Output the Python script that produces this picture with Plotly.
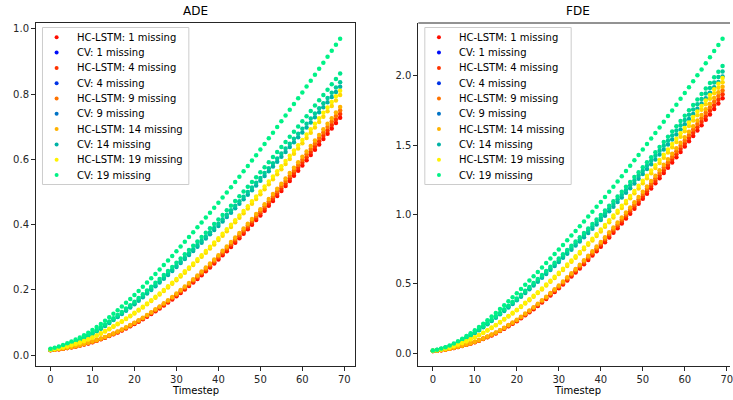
import plotly.graph_objects as go

timesteps = list(range(70))

# ---------------- ADE values ----------------
ade_cv_19 = [0.019, 0.0225, 0.0265, 0.031, 0.036, 0.0415, 0.0475, 0.054, 0.061, 0.0685,
             0.077, 0.086, 0.0955, 0.1055, 0.1159, 0.1266, 0.1376, 0.1488, 0.1602, 0.1718,
             0.184, 0.1965, 0.2093, 0.2223, 0.2355, 0.2489, 0.2624, 0.276, 0.2898, 0.3037,
             0.318, 0.3325, 0.3471, 0.3618, 0.3766, 0.3915, 0.4065, 0.4215, 0.4366, 0.4518,
             0.467, 0.4828, 0.4987, 0.5147, 0.5308, 0.547, 0.5633, 0.5797, 0.5962, 0.6128,
             0.630, 0.6472, 0.6645, 0.6819, 0.6993, 0.7168, 0.7343, 0.7519, 0.7695, 0.7872,
             0.805, 0.823, 0.8411, 0.8593, 0.8776, 0.8959, 0.9143, 0.9328, 0.9514, 0.970]
ade_cv_18 = [0.0169, 0.0200, 0.0236, 0.0276, 0.0320, 0.0369, 0.0423, 0.0481, 0.0543, 0.0610,
             0.0685, 0.0765, 0.0850, 0.0939, 0.1032, 0.1127, 0.1225, 0.1324, 0.1426, 0.1529,
             0.1638, 0.1749, 0.1863, 0.1978, 0.2096, 0.2215, 0.2335, 0.2456, 0.2579, 0.2703,
             0.2830, 0.2959, 0.3089, 0.3220, 0.3352, 0.3484, 0.3618, 0.3751, 0.3886, 0.4021,
             0.4156, 0.4297, 0.4438, 0.4581, 0.4724, 0.4868, 0.5013, 0.5159, 0.5306, 0.5454,
             0.5607, 0.5760, 0.5914, 0.6069, 0.6224, 0.6380, 0.6535, 0.6692, 0.6849, 0.7006,
             0.7165, 0.7325, 0.7486, 0.7648, 0.7811, 0.7974, 0.8137, 0.8302, 0.8467, 0.8633]
ade_cv_16 = [0.0164, 0.0194, 0.0228, 0.0267, 0.0310, 0.0358, 0.0409, 0.0465, 0.0526, 0.0590,
             0.0664, 0.0741, 0.0823, 0.0909, 0.0999, 0.1091, 0.1186, 0.1283, 0.1381, 0.1481,
             0.1586, 0.1694, 0.1804, 0.1916, 0.2030, 0.2146, 0.2262, 0.2379, 0.2498, 0.2618,
             0.2741, 0.2866, 0.2992, 0.3119, 0.3246, 0.3375, 0.3504, 0.3633, 0.3764, 0.3895,
             0.4026, 0.4162, 0.4299, 0.4437, 0.4575, 0.4715, 0.4856, 0.4997, 0.5139, 0.5282,
             0.5431, 0.5579, 0.5728, 0.5878, 0.6028, 0.6179, 0.6330, 0.6481, 0.6633, 0.6786,
             0.6939, 0.7094, 0.7250, 0.7407, 0.7565, 0.7723, 0.7881, 0.8041, 0.8201, 0.8361]
ade_cv_14 = [0.0161, 0.0191, 0.0225, 0.0263, 0.0305, 0.0352, 0.0403, 0.0458, 0.0517, 0.0581,
             0.0653, 0.0729, 0.0810, 0.0895, 0.0983, 0.1074, 0.1167, 0.1262, 0.1358, 0.1457,
             0.1560, 0.1666, 0.1775, 0.1885, 0.1997, 0.2111, 0.2225, 0.2340, 0.2458, 0.2575,
             0.2697, 0.2820, 0.2943, 0.3068, 0.3194, 0.3320, 0.3447, 0.3574, 0.3702, 0.3831,
             0.3960, 0.4094, 0.4229, 0.4365, 0.4501, 0.4639, 0.4777, 0.4916, 0.5056, 0.5197,
             0.5342, 0.5488, 0.5635, 0.5782, 0.5930, 0.6078, 0.6227, 0.6376, 0.6525, 0.6675,
             0.6826, 0.6979, 0.7133, 0.7287, 0.7442, 0.7597, 0.7753, 0.7910, 0.8068, 0.8226]
ade_hc_1 = [0.015, 0.0162, 0.0176, 0.0193, 0.0213, 0.0236, 0.0262, 0.0291, 0.0323, 0.0358,
            0.0396, 0.0438, 0.0483, 0.0531, 0.0582, 0.0636, 0.0693, 0.0753, 0.0816, 0.0882,
            0.0951, 0.1023, 0.1098, 0.1176, 0.1257, 0.1341, 0.1428, 0.1518, 0.1611, 0.1707,
            0.1806, 0.1906, 0.2009, 0.2115, 0.2224, 0.2335, 0.2449, 0.2566, 0.2685, 0.2807,
            0.2931, 0.3057, 0.3185, 0.3315, 0.3447, 0.3581, 0.3717, 0.3855, 0.3995, 0.4137,
            0.4281, 0.4427, 0.4575, 0.4725, 0.4876, 0.5029, 0.5183, 0.5339, 0.5496, 0.5654,
            0.5814, 0.5974, 0.6135, 0.6297, 0.6459, 0.6622, 0.6785, 0.6949, 0.7113, 0.7278]
ade_hc_4 = [0.0152, 0.0164, 0.0179, 0.0196, 0.0216, 0.0240, 0.0266, 0.0295, 0.0328, 0.0363,
            0.0402, 0.0445, 0.0490, 0.0539, 0.0591, 0.0646, 0.0703, 0.0764, 0.0828, 0.0895,
            0.0965, 0.1038, 0.1114, 0.1194, 0.1276, 0.1361, 0.1449, 0.1541, 0.1635, 0.1733,
            0.1833, 0.1935, 0.2039, 0.2147, 0.2257, 0.2370, 0.2486, 0.2604, 0.2725, 0.2849,
            0.2975, 0.3103, 0.3233, 0.3365, 0.3499, 0.3635, 0.3773, 0.3913, 0.4055, 0.4199,
            0.4345, 0.4493, 0.4644, 0.4796, 0.4949, 0.5104, 0.5261, 0.5419, 0.5578, 0.5739,
            0.5901, 0.6064, 0.6227, 0.6391, 0.6556, 0.6721, 0.6887, 0.7053, 0.7220, 0.7387]
ade_hc_9 = [0.0155, 0.0167, 0.0181, 0.0199, 0.0219, 0.0243, 0.0270, 0.0300, 0.0333, 0.0369,
            0.0408, 0.0451, 0.0497, 0.0547, 0.0599, 0.0655, 0.0714, 0.0776, 0.0840, 0.0908,
            0.0980, 0.1054, 0.1131, 0.1211, 0.1295, 0.1381, 0.1471, 0.1564, 0.1659, 0.1758,
            0.1860, 0.1963, 0.2069, 0.2178, 0.2291, 0.2405, 0.2522, 0.2643, 0.2766, 0.2891,
            0.3019, 0.3149, 0.3281, 0.3414, 0.3550, 0.3688, 0.3829, 0.3971, 0.4115, 0.4261,
            0.4409, 0.4560, 0.4712, 0.4867, 0.5022, 0.5180, 0.5338, 0.5499, 0.5661, 0.5824,
            0.5988, 0.6153, 0.6319, 0.6486, 0.6653, 0.6821, 0.6989, 0.7157, 0.7326, 0.7496]
ade_hc_14 = [0.0157, 0.0169, 0.0184, 0.0202, 0.0223, 0.0247, 0.0274, 0.0304, 0.0338, 0.0374,
             0.0414, 0.0458, 0.0505, 0.0555, 0.0608, 0.0665, 0.0724, 0.0787, 0.0853, 0.0922,
             0.0994, 0.1069, 0.1147, 0.1229, 0.1314, 0.1401, 0.1492, 0.1586, 0.1683, 0.1784,
             0.1887, 0.1992, 0.2099, 0.2210, 0.2324, 0.2440, 0.2559, 0.2681, 0.2806, 0.2933,
             0.3063, 0.3195, 0.3328, 0.3464, 0.3602, 0.3742, 0.3884, 0.4028, 0.4175, 0.4323,
             0.4474, 0.4626, 0.4781, 0.4938, 0.5095, 0.5255, 0.5416, 0.5579, 0.5743, 0.5908,
             0.6076, 0.6243, 0.6411, 0.6580, 0.6750, 0.6920, 0.7090, 0.7262, 0.7433, 0.7606]
ade_hc_17 = [0.0160, 0.0181, 0.0206, 0.0233, 0.0265, 0.0300, 0.0338, 0.0381, 0.0427, 0.0477,
             0.0533, 0.0593, 0.0657, 0.0724, 0.0795, 0.0869, 0.0945, 0.1023, 0.1105, 0.1189,
             0.1276, 0.1368, 0.1461, 0.1558, 0.1656, 0.1757, 0.1860, 0.1965, 0.2072, 0.2183,
             0.2296, 0.2410, 0.2526, 0.2645, 0.2765, 0.2887, 0.3011, 0.3137, 0.3264, 0.3393,
             0.3524, 0.3658, 0.3793, 0.3930, 0.4068, 0.4209, 0.4349, 0.4493, 0.4637, 0.4783,
             0.4933, 0.5083, 0.5235, 0.5388, 0.5543, 0.5698, 0.5855, 0.6012, 0.6171, 0.6330,
             0.6490, 0.6653, 0.6815, 0.6979, 0.7142, 0.7307, 0.7472, 0.7638, 0.7804, 0.7970]
ade_hc_19 = [0.0163, 0.0184, 0.0209, 0.0237, 0.0269, 0.0305, 0.0344, 0.0387, 0.0434, 0.0485,
             0.0542, 0.0603, 0.0668, 0.0736, 0.0808, 0.0883, 0.0960, 0.1040, 0.1123, 0.1208,
             0.1297, 0.1390, 0.1485, 0.1583, 0.1683, 0.1786, 0.1890, 0.1997, 0.2106, 0.2218,
             0.2333, 0.2449, 0.2567, 0.2688, 0.2810, 0.2934, 0.3060, 0.3188, 0.3317, 0.3448,
             0.3581, 0.3717, 0.3855, 0.3994, 0.4134, 0.4277, 0.4420, 0.4566, 0.4712, 0.4861,
             0.5013, 0.5166, 0.5320, 0.5476, 0.5633, 0.5791, 0.5950, 0.6110, 0.6271, 0.6433,
             0.6596, 0.6761, 0.6926, 0.7092, 0.7258, 0.7426, 0.7593, 0.7762, 0.7931, 0.8100]

# ---------------- FDE values ----------------
fde_cv_19 = [0.019, 0.025, 0.033, 0.043, 0.055, 0.070, 0.086, 0.104, 0.123, 0.143,
             0.165, 0.188, 0.212, 0.237, 0.263, 0.290, 0.3175, 0.3455, 0.374, 0.4027,
             0.432, 0.4618, 0.4921, 0.5227, 0.5537, 0.585, 0.6168, 0.649, 0.6814, 0.7141,
             0.747, 0.7802, 0.8136, 0.8472, 0.881, 0.915, 0.9494, 0.9841, 1.0191, 1.0544,
             1.09, 1.1262, 1.1628, 1.1998, 1.2372, 1.275, 1.3129, 1.3512, 1.3898, 1.4287,
             1.468, 1.5074, 1.5471, 1.5871, 1.6274, 1.668, 1.7088, 1.75, 1.7914, 1.833,
             1.875, 1.9172, 1.9598, 2.0026, 2.0456, 2.089, 2.1331, 2.1775, 2.2221, 2.267]
fde_cv_18 = [0.0173, 0.0228, 0.0301, 0.0393, 0.0502, 0.0639, 0.0785, 0.0950, 0.1123, 0.1306,
             0.1506, 0.1716, 0.1936, 0.2164, 0.2401, 0.2648, 0.2899, 0.3154, 0.3415, 0.3677,
             0.3944, 0.4216, 0.4493, 0.4772, 0.5055, 0.5341, 0.5631, 0.5925, 0.6221, 0.6520,
             0.6820, 0.7123, 0.7428, 0.7735, 0.8044, 0.8354, 0.8668, 0.8985, 0.9304, 0.9627,
             0.9952, 1.0282, 1.0616, 1.0954, 1.1296, 1.1641, 1.1987, 1.2336, 1.2689, 1.3044,
             1.3403, 1.3763, 1.4125, 1.4490, 1.4858, 1.5229, 1.5601, 1.5978, 1.6355, 1.6735,
             1.7119, 1.7504, 1.7893, 1.8284, 1.8676, 1.9073, 1.9475, 1.9881, 2.0288, 2.0698]
fde_cv_16 = [0.0170, 0.0224, 0.0296, 0.0385, 0.0493, 0.0627, 0.0771, 0.0932, 0.1102, 0.1281,
             0.1478, 0.1684, 0.1900, 0.2124, 0.2356, 0.2598, 0.2845, 0.3096, 0.3351, 0.3608,
             0.3871, 0.4138, 0.4409, 0.4683, 0.4961, 0.5242, 0.5527, 0.5815, 0.6105, 0.6398,
             0.6693, 0.6991, 0.7290, 0.7591, 0.7894, 0.8198, 0.8507, 0.8818, 0.9131, 0.9447,
             0.9766, 1.0091, 1.0419, 1.0750, 1.1085, 1.1424, 1.1764, 1.2107, 1.2453, 1.2801,
             1.3153, 1.3506, 1.3862, 1.4220, 1.4582, 1.4945, 1.5311, 1.5680, 1.6051, 1.6424,
             1.6800, 1.7178, 1.7560, 1.7943, 1.8329, 1.8717, 1.9113, 1.9510, 1.9910, 2.0312]
fde_cv_14 = [0.0167, 0.0220, 0.0290, 0.0378, 0.0484, 0.0616, 0.0757, 0.0915, 0.1082, 0.1258,
             0.1452, 0.1654, 0.1866, 0.2086, 0.2314, 0.2552, 0.2794, 0.3040, 0.3291, 0.3544,
             0.3802, 0.4064, 0.4330, 0.4600, 0.4873, 0.5148, 0.5428, 0.5711, 0.5996, 0.6284,
             0.6574, 0.6866, 0.7160, 0.7455, 0.7753, 0.8052, 0.8355, 0.8660, 0.8968, 0.9279,
             0.9592, 0.9911, 1.0233, 1.0558, 1.0887, 1.1220, 1.1554, 1.1891, 1.2230, 1.2573,
             1.2918, 1.3265, 1.3614, 1.3966, 1.4321, 1.4678, 1.5037, 1.5400, 1.5764, 1.6130,
             1.6500, 1.6871, 1.7246, 1.7623, 1.8001, 1.8383, 1.8771, 1.9162, 1.9554, 1.9950]
fde_hc_1 = [0.015, 0.0175, 0.021, 0.0255, 0.0305, 0.037, 0.044, 0.0515, 0.0598, 0.0685,
            0.078, 0.0895, 0.1015, 0.1143, 0.1278, 0.142, 0.1585, 0.1755, 0.1931, 0.2112,
            0.23, 0.251, 0.2725, 0.2945, 0.317, 0.34, 0.3645, 0.3895, 0.4149, 0.4407,
            0.467, 0.4948, 0.523, 0.5516, 0.5806, 0.61, 0.6407, 0.6717, 0.7031, 0.7348,
            0.767, 0.8, 0.8333, 0.8669, 0.9008, 0.935, 0.97, 1.0053, 1.0409, 1.0768,
            1.113, 1.1497, 1.1867, 1.2239, 1.2613, 1.299, 1.3368, 1.3747, 1.4127, 1.4508,
            1.489, 1.5274, 1.5659, 1.6045, 1.6432, 1.682, 1.7209, 1.7599, 1.7989, 1.838]
fde_hc_4 = [0.0152, 0.0178, 0.0213, 0.0259, 0.0310, 0.0376, 0.0447, 0.0523, 0.0607, 0.0695,
            0.0792, 0.0908, 0.1030, 0.1160, 0.1297, 0.1441, 0.1609, 0.1781, 0.1960, 0.2144,
            0.2335, 0.2548, 0.2766, 0.2989, 0.3218, 0.3451, 0.3700, 0.3953, 0.4211, 0.4473,
            0.4740, 0.5022, 0.5308, 0.5599, 0.5893, 0.6192, 0.6503, 0.6818, 0.7136, 0.7458,
            0.7785, 0.8120, 0.8458, 0.8799, 0.9143, 0.9490, 0.9846, 1.0204, 1.0565, 1.0930,
            1.1297, 1.1669, 1.2045, 1.2423, 1.2802, 1.3185, 1.3569, 1.3953, 1.4339, 1.4726,
            1.5113, 1.5503, 1.5894, 1.6286, 1.6678, 1.7072, 1.7467, 1.7863, 1.8259, 1.8656]
fde_hc_9 = [0.0155, 0.0180, 0.0216, 0.0263, 0.0314, 0.0381, 0.0453, 0.0530, 0.0616, 0.0706,
            0.0803, 0.0922, 0.1045, 0.1177, 0.1316, 0.1463, 0.1633, 0.1808, 0.1989, 0.2175,
            0.2369, 0.2585, 0.2807, 0.3033, 0.3265, 0.3502, 0.3754, 0.4012, 0.4273, 0.4539,
            0.4810, 0.5096, 0.5387, 0.5681, 0.5980, 0.6283, 0.6599, 0.6919, 0.7242, 0.7568,
            0.7900, 0.8240, 0.8583, 0.8929, 0.9278, 0.9631, 0.9991, 1.0355, 1.0721, 1.1091,
            1.1464, 1.1842, 1.2223, 1.2606, 1.2991, 1.3380, 1.3769, 1.4159, 1.4551, 1.4943,
            1.5337, 1.5732, 1.6129, 1.6526, 1.6925, 1.7325, 1.7725, 1.8127, 1.8529, 1.8931]
fde_hc_14 = [0.0157, 0.0183, 0.0219, 0.0266, 0.0319, 0.0387, 0.0460, 0.0538, 0.0625, 0.0716,
             0.0815, 0.0935, 0.1061, 0.1194, 0.1336, 0.1484, 0.1656, 0.1834, 0.2018, 0.2207,
             0.2404, 0.2623, 0.2848, 0.3078, 0.3313, 0.3553, 0.3809, 0.4070, 0.4336, 0.4605,
             0.4880, 0.5171, 0.5465, 0.5764, 0.6067, 0.6375, 0.6695, 0.7019, 0.7347, 0.7679,
             0.8015, 0.8360, 0.8708, 0.9059, 0.9413, 0.9771, 1.0137, 1.0505, 1.0877, 1.1253,
             1.1631, 1.2014, 1.2401, 1.2790, 1.3181, 1.3575, 1.3970, 1.4366, 1.4763, 1.5161,
             1.5560, 1.5961, 1.6364, 1.6767, 1.7171, 1.7577, 1.7983, 1.8391, 1.8799, 1.9207]
fde_hc_17 = [0.0162, 0.0201, 0.0254, 0.0321, 0.0399, 0.0498, 0.0605, 0.0722, 0.0848, 0.0980,
             0.1125, 0.1285, 0.1453, 0.1628, 0.1812, 0.2003, 0.2210, 0.2421, 0.2638, 0.2857,
             0.3083, 0.3323, 0.3568, 0.3817, 0.4070, 0.4327, 0.4594, 0.4866, 0.5141, 0.5418,
             0.5699, 0.5991, 0.6284, 0.6581, 0.6880, 0.7184, 0.7495, 0.7809, 0.8126, 0.8446,
             0.8771, 0.9102, 0.9437, 0.9775, 1.0116, 1.0461, 1.0810, 1.1163, 1.1519, 1.1876,
             1.2239, 1.2603, 1.2970, 1.3341, 1.3713, 1.4088, 1.4465, 1.4844, 1.5224, 1.5605,
             1.5990, 1.6376, 1.6764, 1.7153, 1.7544, 1.7937, 1.8334, 1.8732, 1.9132, 1.9533]
fde_hc_19 = [0.0164, 0.0204, 0.0258, 0.0326, 0.0405, 0.0506, 0.0614, 0.0733, 0.0861, 0.0995,
             0.1142, 0.1305, 0.1475, 0.1653, 0.1840, 0.2034, 0.2244, 0.2458, 0.2678, 0.2901,
             0.3130, 0.3374, 0.3622, 0.3875, 0.4132, 0.4393, 0.4664, 0.4940, 0.5219, 0.5501,
             0.5786, 0.6082, 0.6380, 0.6681, 0.6985, 0.7293, 0.7609, 0.7928, 0.8250, 0.8575,
             0.8905, 0.9241, 0.9581, 0.9924, 1.0270, 1.0620, 1.0975, 1.1333, 1.1694, 1.2057,
             1.2425, 1.2795, 1.3168, 1.3544, 1.3922, 1.4303, 1.4685, 1.5070, 1.5456, 1.5843,
             1.6233, 1.6625, 1.7019, 1.7414, 1.7811, 1.8210, 1.8613, 1.9017, 1.9423, 1.9830]

legend_missing = [1, 4, 9, 14, 19]
model_names = {"hc": "HC-LSTM", "cv": "CV"}
ade_ticks = [0.0, 0.2, 0.4, 0.6, 0.8, 1.0]
fde_ticks = [0.0, 0.5, 1.0, 1.5, 2.0]
x_ticks = [0, 10, 20, 30, 40, 50, 60, 70]

# drawing order (per missing count, HC-LSTM then CV)
ade_series = [("hc", 1, ade_hc_1), ("hc", 4, ade_hc_4), ("hc", 9, ade_hc_9), ("hc", 14, ade_hc_14),
              ("cv", 14, ade_cv_14), ("cv", 16, ade_cv_16), ("hc", 17, ade_hc_17),
              ("cv", 18, ade_cv_18), ("hc", 19, ade_hc_19), ("cv", 19, ade_cv_19)]
fde_series = [("hc", 1, fde_hc_1), ("hc", 4, fde_hc_4), ("hc", 9, fde_hc_9), ("hc", 14, fde_hc_14),
              ("cv", 14, fde_cv_14), ("cv", 16, fde_cv_16), ("hc", 17, fde_hc_17),
              ("cv", 18, fde_cv_18), ("hc", 19, fde_hc_19), ("cv", 19, fde_cv_19)]


def colour(model, m):
    t = m / 20.0
    if model == "hc":   # autumn colormap
        return "rgb(255,%d,0)" % round(255 * t)
    return "rgb(0,%d,%d)" % (round(255 * t), round(255 * (1 - t / 2)))  # winter colormap


W, H = 733, 400
ML, MR, MT, MB = 36, 0, 23, 34
PW, PH = W - ML - MR, H - MT - MB


def pxx(p):
    return (p - ML) / PW


def pxy(p):
    return (H - MB - p) / PH


FONT = "DejaVu Sans"
INK = "#262626"

fig = go.Figure()
for series, xa, ya in ((ade_series, "x", "y"), (fde_series, "x2", "y2")):
    for model, m, vals in series:
        fig.add_trace(go.Scatter(
            x=timesteps, y=vals, mode="markers", xaxis=xa, yaxis=ya,
            marker=dict(size=4.5, color=colour(model, m), line=dict(width=0)),
            name="%s: %d missing" % (model_names[model], m), showlegend=False,
            hoverinfo="skip"))

axis_common = dict(showgrid=False, zeroline=False, ticks="outside", ticklen=4, tickwidth=1,
                   tickcolor=INK, showline=True, linecolor=INK, linewidth=1,
                   tickfont=dict(family=FONT, size=10, color=INK))
dom_left = [0, 320 / PW]
dom_right = [(420 - ML) / PW, 1]
fig.update_layout(
    width=W, height=H, margin=dict(l=ML, r=MR, t=MT, b=MB),
    paper_bgcolor="white", plot_bgcolor="white", showlegend=False,
    xaxis=dict(domain=dom_left, range=[-3.45, 72.45], tickvals=x_ticks, mirror=True, anchor="y", **axis_common),
    yaxis=dict(domain=[0, 1], range=[-0.0335, 1.018], tickvals=ade_ticks, tickformat=".1f",
               mirror=True, anchor="x", **axis_common),
    xaxis2=dict(domain=dom_right, range=[-3.45, 70.77], tickvals=x_ticks, anchor="y2",
                ticklabeloverflow="allow", **axis_common),
    yaxis2=dict(domain=[0, 1], range=[-0.093, 2.38], tickvals=fde_ticks, tickformat=".1f",
                anchor="x2", **axis_common),
)

shapes = [dict(type="line", xref="x2 domain", yref="y2 domain", x0=0, x1=1, y0=1, y1=1,
               line=dict(color=INK, width=1))]
annotations = []
for title, cx in (("ADE", 196), ("FDE", 580)):
    annotations.append(dict(text=title, x=pxx(cx), y=pxy(11), xref="paper", yref="paper",
                            showarrow=False, xanchor="center", yanchor="middle",
                            font=dict(family=FONT, size=12, color="#000")))
    annotations.append(dict(text="Timestep", x=pxx(cx), y=pxy(390), xref="paper", yref="paper",
                            showarrow=False, xanchor="center", yanchor="middle",
                            font=dict(family=FONT, size=10, color="#000")))

# legends (one per panel)
for ax_left in (36, 420):
    bx0, bx1 = ax_left + 6.5, ax_left + 153.5
    shapes.append(dict(type="rect", xref="paper", yref="paper", x0=pxx(bx0), x1=pxx(bx1),
                       y0=pxy(184.5), y1=pxy(27.5), fillcolor="rgba(255,255,255,0.8)",
                       line=dict(color="#cccccc", width=1), layer="above"))
    i = 0
    for m in legend_missing:
        for model in ("hc", "cv"):
            yy = 37.3 + i * 15.3
            shapes.append(dict(type="circle", xref="paper", yref="paper",
                               xsizemode="pixel", ysizemode="pixel",
                               xanchor=pxx(ax_left + 20.7), yanchor=pxy(yy),
                               x0=-2, x1=2, y0=-2, y1=2,
                               fillcolor=colour(model, m), line=dict(width=0), layer="above"))
            annotations.append(dict(text="%s: %d missing" % (model_names[model], m),
                                    x=pxx(ax_left + 39), y=pxy(yy), xref="paper", yref="paper",
                                    showarrow=False, xanchor="left", yanchor="middle",
                                    font=dict(family=FONT, size=10, color="#000")))
            i += 1

fig.update_layout(shapes=shapes, annotations=annotations)
fig.write_html("out.html", config={"displayModeBar": False},
               post_script="document.body.style.margin='0';document.body.style.overflow='hidden';")
